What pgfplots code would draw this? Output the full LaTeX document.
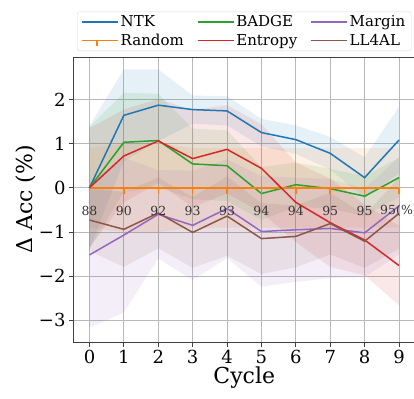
\documentclass[border=0pt]{standalone}
\usepackage{fontspec}
\setmainfont{DejaVu Serif}
\usepackage{pgfplots}
\pgfplotsset{compat=1.18}
\usepackage{pgfplotstable}
\definecolor{cntk}{HTML}{1F77B4}
\definecolor{crnd}{HTML}{FF7F0E}
\definecolor{cbad}{HTML}{2CA02C}
\definecolor{cent}{HTML}{D62728}
\definecolor{cmar}{HTML}{9467BD}
\definecolor{cll}{HTML}{8C564B}
% rows 0-9: forward (upper band edge), rows 10-19: backward (lower band edge)
\pgfplotstableread{
x sgn ntk ntks badge badges margin margins rnd rnds rnde ent ents ll lls
0 1  0    1.40 0     1.38 -1.52 1.65 0 0.90 0.15 0     1.35 -0.73 0.70
1 1  1.64 1.04 1.03  1.12 -1.07 1.75 0 1.00 0.15 0.72  1.05 -0.94 0.85
2 1  1.87 0.81 1.07  1.06 -0.60 1.00 0 1.00 0.15 1.06  0.95 -0.57 0.80
3 1  1.77 0.32 0.54  0.80 -0.85 1.24 0 0.90 0.15 0.66  1.10 -1.01 0.80
4 1  1.74 0.33 0.50  0.80 -0.47 1.12 0 0.90 0.15 0.87  1.00 -0.64 0.90
5 1  1.25 0.31 -0.13 0.60 -0.99 1.25 0 0.90 0.15 0.44  1.00 -1.15 0.80
6 1  1.09 0.32 0.07  0.50 -0.95 1.18 0 0.90 0.15 -0.33 0.90 -1.10 0.70
7 1  0.78 0.37 -0.02 0.45 -0.92 1.12 0 0.90 0.15 -0.79 1.00 -0.81 0.70
8 1  0.23 0.46 -0.19 0.45 -1.02 1.00 0 0.90 0.15 -1.18 0.80 -1.21 0.60
9 1  1.08 0.75 0.23  0.45 -0.41 1.10 0 0.90 0.15 -1.76 0.90 -0.58 0.80
9 -1 1.08 0.75 0.23  0.45 -0.41 1.10 0 0.90 0.15 -1.76 0.90 -0.58 0.80
8 -1 0.23 0.46 -0.19 0.45 -1.02 1.00 0 0.90 0.15 -1.18 0.80 -1.21 0.60
7 -1 0.78 0.37 -0.02 0.45 -0.92 1.12 0 0.90 0.15 -0.79 1.00 -0.81 0.70
6 -1 1.09 0.32 0.07  0.50 -0.95 1.18 0 0.90 0.15 -0.33 0.90 -1.10 0.70
5 -1 1.25 0.31 -0.13 0.60 -0.99 1.25 0 0.90 0.15 0.44  1.00 -1.15 0.80
4 -1 1.74 0.33 0.50  0.80 -0.47 1.12 0 0.90 0.15 0.87  1.00 -0.64 0.90
3 -1 1.77 0.32 0.54  0.80 -0.85 1.24 0 0.90 0.15 0.66  1.10 -1.01 0.80
2 -1 1.87 0.81 1.07  1.06 -0.60 1.00 0 1.00 0.15 1.06  0.95 -0.57 0.80
1 -1 1.64 1.04 1.03  1.12 -1.07 1.75 0 1.00 0.15 0.72  1.05 -0.94 0.85
0 -1 0    1.40 0     1.38 -1.52 1.65 0 0.90 0.15 0     1.35 -0.73 0.70
}\data
\newcommand{\band}[3]{%
  \addplot[fill=#3, fill opacity=0.11, draw=none, forget plot]
    table[x=x, y expr=\thisrow{#1}+\thisrow{sgn}*\thisrow{#2}]{\data} -- cycle;
}
\begin{document}
\begin{tikzpicture}
\begin{axis}[
  at={(0,0)}, anchor=south west,
  scale only axis, width=340.5bp, height=285bp,
  xmin=-0.45, xmax=9.45, ymin=-3.49, ymax=2.96,
  xtick={0,...,9}, ytick={-3,-2,-1,0,1,2},
  yticklabels={−3,−2,−1,0,1,2},
  tick label style={font=\fontsize{18bp}{20bp}\selectfont},
  /pgf/number format/assume math mode=true,
  label style={font=\fontsize{22bp}{24bp}\selectfont},
  xlabel={Cycle}, ylabel={Δ Acc (\%)},
  xlabel style={yshift=4bp},
  ylabel style={yshift=-4bp},
  tick align=outside, xtick pos=bottom, ytick pos=left,
  major tick length=5bp,
  tick style={black!75, line width=0.8bp},
  axis line style={black!75, line width=1bp},
  grid=major, grid style={gray!55, line width=0.8bp},
  legend columns=3,
  legend cell align=left,
  legend style={at={(0.5,1)}, anchor=south, yshift=6bp,
    font=\fontsize{15bp}{17bp}\selectfont,
    draw=gray!30, rounded corners=2bp, fill=white,
    inner xsep=4bp, inner ysep=2bp,
    row sep=1.5bp,
    /tikz/every even column/.append style={column sep=11bp}},
  legend image code/.code={\draw[#1] (0bp,0bp) -- (30bp,0bp); \path (0bp,0bp) -- (36bp,0bp);},
]
\band{ntk}{ntks}{cntk}
\band{rnd}{rnds}{crnd}
\band{badge}{badges}{cbad}
\band{ent}{ents}{cent}
\band{margin}{margins}{cmar}
\band{ll}{lls}{cll}
\addplot[cntk, line width=1.5bp] table[x=x, y=ntk, skip coords between index={10}{20}]{\data};
\addlegendentry{NTK}
\addplot[cbad, line width=1.5bp] table[x=x, y=badge, skip coords between index={10}{20}]{\data};
\addlegendentry{BADGE}
\addplot[cmar, line width=1.5bp] table[x=x, y=margin, skip coords between index={10}{20}]{\data};
\addlegendentry{Margin}
\addplot[crnd, line width=1.5bp,
  legend image code/.code={\draw[crnd, line width=1.5bp] (0bp,0bp) -- (30bp,0bp); \draw[crnd, line width=1.5bp] (15bp,0bp) -- (15bp,-6bp); \path (0bp,0bp) -- (36bp,0bp);},
  error bars/.cd, y dir=minus, y explicit, error mark=none,
  error bar style={crnd, line width=1.5bp}]
  table[x=x, y=rnd, y error=rnde, skip coords between index={10}{20}]{\data};
\addlegendentry{Random}
\addplot[cent, line width=1.5bp] table[x=x, y=ent, skip coords between index={10}{20}]{\data};
\addlegendentry{Entropy}
\addplot[cll, line width=1.5bp] table[x=x, y=ll, skip coords between index={10}{20}]{\data};
\addlegendentry{LL4AL}
\node[black!80, font=\fontsize{12.5bp}{14bp}\selectfont] at (axis cs:0,-0.52) {88};
\node[black!80, font=\fontsize{12.5bp}{14bp}\selectfont] at (axis cs:1,-0.52) {90};
\node[black!80, font=\fontsize{12.5bp}{14bp}\selectfont] at (axis cs:2,-0.52) {92};
\node[black!80, font=\fontsize{12.5bp}{14bp}\selectfont] at (axis cs:3,-0.52) {93};
\node[black!80, font=\fontsize{12.5bp}{14bp}\selectfont] at (axis cs:4,-0.52) {93};
\node[black!80, font=\fontsize{12.5bp}{14bp}\selectfont] at (axis cs:5,-0.52) {94};
\node[black!80, font=\fontsize{12.5bp}{14bp}\selectfont] at (axis cs:6,-0.52) {94};
\node[black!80, font=\fontsize{12.5bp}{14bp}\selectfont] at (axis cs:7,-0.52) {95};
\node[black!80, font=\fontsize{12.5bp}{14bp}\selectfont] at (axis cs:8,-0.52) {95};
\node[black!80, font=\fontsize{12.5bp}{14bp}\selectfont] at (axis cs:9,-0.52) {95(\%)};
\end{axis}
\pgfresetboundingbox
\path (-74bp,-57bp) rectangle (340bp,342bp);
\end{tikzpicture}
\end{document}
